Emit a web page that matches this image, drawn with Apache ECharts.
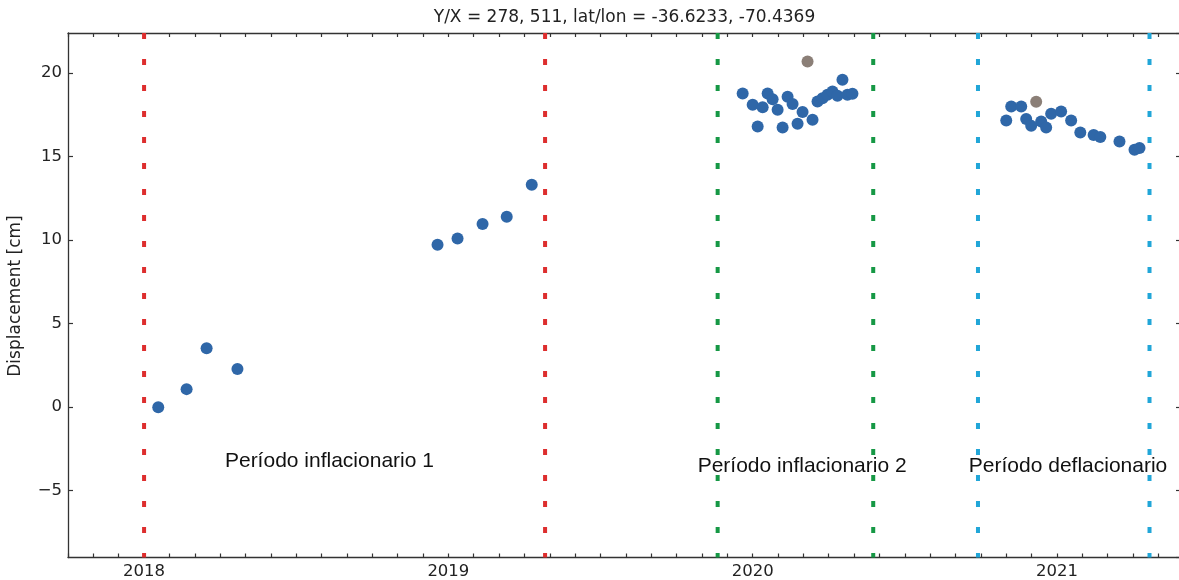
<!DOCTYPE html>
<html><head><meta charset="utf-8">
<script src="https://cdn.jsdelivr.net/npm/echarts@6/dist/echarts.min.js"></script>
<style>html,body{margin:0;padding:0;background:#fff}#c{width:1179px;height:580px}</style>
</head><body><div id="c"></div>
<script>
// ---------------- data ----------------
const titleText = 'Y/X = 278, 511, lat/lon = -36.6233, -70.4369';
const yAxisTitle = 'Displacement [cm]';

const blueDates = [
  '2018-01-18','2018-02-21','2018-03-17','2018-04-23',
  '2018-12-19','2019-01-12','2019-02-11','2019-03-12','2019-04-11',
  '2019-12-20','2020-01-01','2020-01-07','2020-01-13','2020-01-19','2020-01-25','2020-01-31',
  '2020-02-06','2020-02-12','2020-02-18','2020-02-24','2020-03-01','2020-03-13','2020-03-19',
  '2020-03-25','2020-03-31','2020-04-06','2020-04-12','2020-04-18','2020-04-24','2020-04-30',
  '2020-11-01','2020-11-07','2020-11-19','2020-11-25','2020-12-01','2020-12-13','2020-12-19',
  '2020-12-25','2021-01-06','2021-01-18','2021-01-29','2021-02-14','2021-02-22','2021-03-17',
  '2021-04-04','2021-04-10'
];
const blueValues = [
  0.0, 1.08, 3.53, 2.28,
  9.72, 10.10, 10.96, 11.40, 13.31,
  18.78, 18.10, 16.80, 17.96, 18.78, 18.44, 17.80,
  16.74, 18.58, 18.15, 16.97, 17.67, 17.21, 18.30,
  18.50, 18.70, 18.90, 18.64, 19.60, 18.70, 18.76,
  17.16, 18.00, 18.00, 17.25, 16.84, 17.10, 16.74,
  17.56, 17.70, 17.16, 16.44, 16.29, 16.17, 15.90,
  15.41, 15.51
];
const grayDates = ['2020-03-07', '2020-12-07'];
const grayValues = [20.69, 18.28];

const periodLineDates = ['2018-01-01','2019-04-27','2019-11-20','2020-05-25','2020-09-28','2021-04-22'];
const annotationTexts = ['Período inflacionario 1','Período inflacionario 2','Período deflacionario'];
const annotationDates = ['2018-04-08','2019-10-27','2020-09-17'];
const annotationValues = [-3.26, -3.54, -3.54];

const yearTicks = [2018, 2019, 2020, 2021];

// ---------------- styles ----------------
const periodLineColors = ['#dd2e2e','#dd2e2e','#169845','#169845','#21a6d8','#21a6d8'];
const X_MIN = 2017.75, X_MAX = 2021.4076;
const Y_MIN = -9, Y_MAX = 22.4;
const AXIS_COLOR = '#333';
const TEXT_COLOR = '#222';

function toYear(s){
  const d = Date.UTC(+s.slice(0,4), +s.slice(5,7)-1, +s.slice(8,10));
  const y = +s.slice(0,4);
  const a = Date.UTC(y,0,1), b = Date.UTC(y+1,0,1);
  return y + (d - a)/(b - a);
}

const lineSeries = periodLineDates.map((d,i)=>({
  type:'line', silent:true, symbol:'none', animation:false, clip:false,
  data:[[toYear(d), Y_MAX],[toYear(d), Y_MIN]],
  lineStyle:{color:periodLineColors[i], width:4, type:[6,20], dashOffset:0, cap:'butt'},
  z:2
}));

function fmtX(v){
  const r = Math.round(v);
  return (Math.abs(v-r) < 1e-6 && yearTicks.includes(r)) ? String(r) : '';
}
function fmtY(v){
  const r = Math.round(v);
  if (Math.abs(v-r) > 1e-6 || r % 5 !== 0) return '';
  return String(r).replace('-', '\u2212');
}

const axisLineStyle = {show:true, onZero:false, lineStyle:{color:AXIS_COLOR, width:1.3}};
const tickStyle = {show:true, inside:true, length:4, lineStyle:{color:AXIS_COLOR, width:1.2}};

const chart = echarts.init(document.getElementById('c'), null, {renderer:'canvas'});
chart.setOption({
  animation:false,
  backgroundColor:'#fff',
  grid:{left:68, top:33, width:1113, height:524.5, containLabel:false, outerBoundsMode:'none'},
  xAxis:[{
    type:'value', position:'bottom', min:X_MIN, max:X_MAX, interval:1/12,
    axisLine:axisLineStyle, axisTick:tickStyle, splitLine:{show:false},
    axisLabel:{formatter:fmtX, color:TEXT_COLOR, fontFamily:'DejaVu Sans', fontSize:16.5, margin:6, hideOverlap:false}
  },{
    type:'value', position:'top', min:X_MIN, max:X_MAX, interval:1/12,
    axisLine:axisLineStyle, axisTick:tickStyle, splitLine:{show:false}, axisLabel:{show:false}
  }],
  yAxis:[{
    type:'value', position:'left', min:Y_MIN, max:Y_MAX, splitNumber:6,
    axisLine:axisLineStyle, axisTick:{...tickStyle, length:5}, splitLine:{show:false},
    axisLabel:{formatter:fmtY, color:TEXT_COLOR, fontFamily:'DejaVu Sans', fontSize:16.5, margin:6, showMinLabel:false, showMaxLabel:false}
  },{
    type:'value', position:'right', min:Y_MIN, max:Y_MAX, splitNumber:6,
    axisLine:axisLineStyle, axisTick:{...tickStyle, length:5}, splitLine:{show:false},
    axisLabel:{show:false}
  }],
  graphic:[{
    type:'text', x:624.5, y:18, silent:true,
    style:{text:titleText, fontFamily:'DejaVu Sans', fontSize:17, fill:TEXT_COLOR, align:'center', verticalAlign:'middle'}
  },{
    type:'text', x:16, y:296, rotation:Math.PI/2, silent:true,
    style:{text:yAxisTitle, fontFamily:'DejaVu Sans', fontSize:17, fill:TEXT_COLOR, align:'center', verticalAlign:'middle'}
  }],
  series:[
    ...lineSeries,
    {type:'scatter', symbol:'circle', symbolSize:12, silent:true, z:3,
     itemStyle:{color:'#2f67a8', opacity:1},
     data:blueDates.map((d,i)=>[toYear(d), blueValues[i]])},
    {type:'scatter', symbol:'circle', symbolSize:12, silent:true, z:3,
     itemStyle:{color:'#8b7f77', opacity:1},
     data:grayDates.map((d,i)=>[toYear(d), grayValues[i]])},
    {type:'scatter', symbolSize:0, silent:true, z:4,
     label:{show:true, position:'right', distance:0, formatter:p=>p.data[2],
            fontFamily:'Liberation Sans', fontSize:21, color:'#111', opacity:1, textBorderWidth:0},
     data:annotationDates.map((d,i)=>[toYear(d), annotationValues[i], annotationTexts[i]])}
  ]
});
</script></body></html>
